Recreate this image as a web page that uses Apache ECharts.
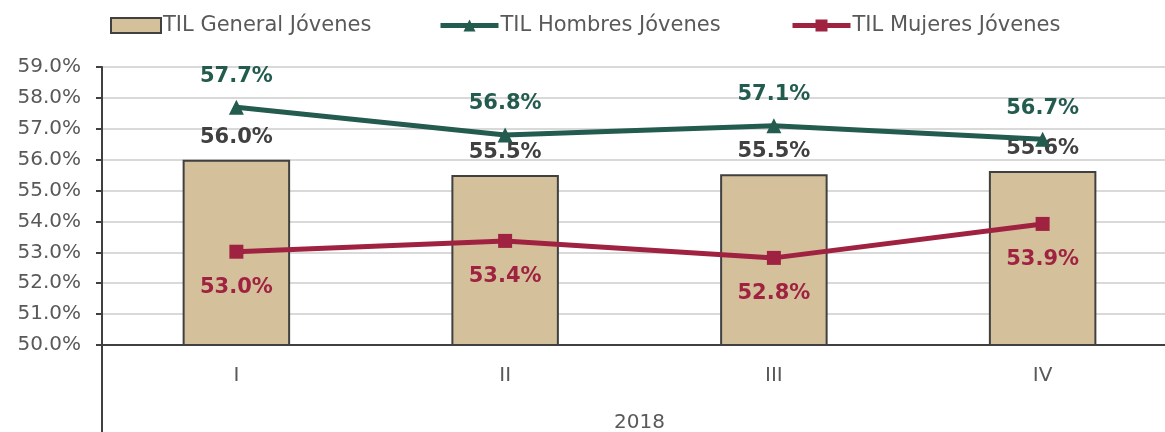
<!DOCTYPE html>
<html lang="es">
<head>
<meta charset="UTF-8">
<title>TIL Jóvenes 2018</title>
<script src="https://cdn.jsdelivr.net/npm/echarts@6/dist/echarts.min.js"></script>
<style>
html,body{margin:0;padding:0;background:#fff;}
#chart{width:1165px;height:432px;}
</style>
</head>
<body>
<div id="chart"></div>
<script>
// datos
var trimestres = ['I', 'II', 'III', 'IV'];
var anio = ['2018'];
var general = [56.0, 55.5, 55.53, 55.63];
var hombres = [57.7, 56.8, 57.1, 56.66];
var mujeres = [53.02, 53.37, 52.82, 53.92];

var fuente = '"DejaVu Sans", sans-serif';
var gris = '#595959';

var myChart = echarts.init(document.getElementById('chart'));

function legenda(nombre, left, w, icono){
	var l = {
		data: [nombre],
		left: left,
		top: 10,
		itemWidth: w,
		itemHeight: 15,
		lineStyle: { width: 5 },
		textStyle: { fontFamily: fuente, fontSize: 21, color: gris, padding: [0, 0, 0, -3] }
	};
	if (icono) l.icon = icono;
	return l;
}

var option = {
	animation: false,
	legend: [
		legenda('TIL General Jóvenes', 105, 50, 'rect'),
		legenda('TIL Hombres Jóvenes', 433, 58),
		legenda('TIL Mujeres Jóvenes', 785, 58)
	],
	grid: { left: 102, top: 67, width: 1075, bottom: 87, outerBoundsMode: 'none' },
	xAxis: [
		{
			type: 'category',
			data: trimestres,
			axisLine: { lineStyle: { color: '#404040', width: 2 } },
			axisTick: {
				show: true,
				length: 87,
				interval: function(i){ return i === 0; },
				lineStyle: { color: '#404040', width: 2 }
			},
			axisLabel: { margin: 21, fontFamily: fuente, fontSize: 20, color: gris }
		},
		{
			type: 'category',
			data: anio,
			position: 'bottom',
			offset: 62,
			axisLine: { show: false },
			axisTick: { show: false },
			axisLabel: { margin: 6, fontFamily: fuente, fontSize: 20, color: gris }
		}
	],
	yAxis: {
		type: 'value',
		min: 50,
		max: 59,
		interval: 1,
		axisLine: { show: true, lineStyle: { color: '#404040', width: 2 } },
		axisTick: { show: true, length: 6, lineStyle: { color: '#404040', width: 2 } },
		splitLine: { lineStyle: { color: '#D9D9D9', width: 2 } },
		axisLabel: {
			margin: 21,
			fontFamily: fuente,
			fontSize: 20,
			color: gris,
			formatter: function(v){ return v.toFixed(1) + '%'; }
		}
	},
	series: [
		{
			name: 'TIL General Jóvenes',
			type: 'bar',
			data: general,
			barWidth: '40%',
			itemStyle: { color: '#D4C19C', borderColor: '#404040', borderWidth: 2 },
			label: {
				show: true,
				position: 'top',
				distance: 12,
				fontFamily: fuente,
				fontSize: 21,
				fontWeight: 'bold',
				color: '#404040',
				formatter: function(p){ return p.value.toFixed(1) + '%'; }
			}
		},
		{
			name: 'TIL Hombres Jóvenes',
			type: 'line',
			data: hombres,
			symbol: 'triangle',
			symbolSize: 15,
			lineStyle: { color: '#235B4E', width: 5 },
			itemStyle: { color: '#235B4E' },
			label: {
				show: true,
				position: 'top',
				distance: 13,
				fontFamily: fuente,
				fontSize: 21,
				fontWeight: 'bold',
				color: '#235B4E',
				formatter: function(p){ return p.value.toFixed(1) + '%'; }
			}
		},
		{
			name: 'TIL Mujeres Jóvenes',
			type: 'line',
			data: mujeres,
			symbol: 'rect',
			symbolSize: 14,
			lineStyle: { color: '#9F2241', width: 5 },
			itemStyle: { color: '#9F2241' },
			label: {
				show: true,
				position: 'bottom',
				distance: 18,
				fontFamily: fuente,
				fontSize: 21,
				fontWeight: 'bold',
				color: '#9F2241',
				formatter: function(p){ return p.value.toFixed(1) + '%'; }
			}
		}
	]
};

myChart.setOption(option);
</script>
</body>
</html>
